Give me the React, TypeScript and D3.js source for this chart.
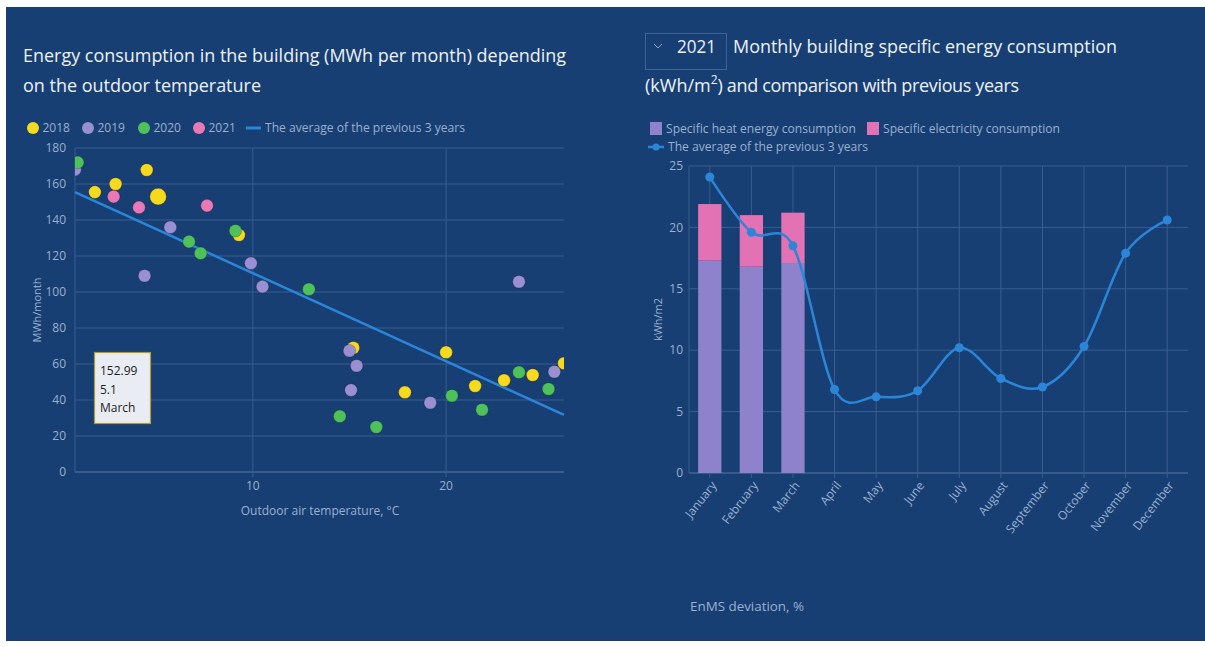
import React from "react";
import * as d3 from "d3";

// left chart: outdoor temperature (°C) vs consumption (MWh / month)
const t2018 = [1.83, 2.9, 4.51, 5.1, 9.28, 15.2, 17.87, 20.0, 21.5, 23.0, 24.48, 26.1];
const v2018 = [155.5, 160, 167.8, 152.99, 131.7, 69, 44.3, 66.5, 47.8, 51, 53.9, 60.4];
const t2019 = [0.8, 5.73, 4.4, 9.9, 10.5, 23.77, 15.0, 15.37, 15.08, 19.18, 25.6];
const v2019 = [168, 136, 109, 116, 103, 105.7, 67.4, 59, 45.5, 38.5, 55.7];
const t2020 = [0.94, 6.7, 7.3, 9.1, 12.9, 14.5, 16.39, 20.3, 21.86, 23.77, 25.3];
const v2020 = [172, 128, 121.5, 134, 101.5, 31, 25, 42.4, 34.6, 55.4, 46.1];
const t2021 = [2.8, 4.11, 7.63];
const v2021 = [153, 147, 148];
const avgTemps = [0.8, 26.1];
const avgVals = [155.5, 31.7];
const years = ["2018", "2019", "2020", "2021"];
const yearColors = ["#f7d91e", "#9a8fd2", "#4fc15a", "#e978b6"];
const yTicksLeft = [0, 20, 40, 60, 80, 100, 120, 140, 160, 180];
const xTicksLeft = [10, 20];
const tooltipLines = ["152.99", "5.1", "March"];

// right chart: monthly specific consumption (kWh/m2)
const months = ["January", "February", "March", "April", "May", "June", "July", "August", "September", "October", "November", "December"];
const heat = [17.3, 16.8, 17.1];
const electricity = [4.6, 4.2, 4.1];
const avgPrev = [24.1, 19.6, 18.5, 6.8, 6.2, 6.7, 10.2, 7.7, 7.0, 10.3, 17.9, 20.6];
const yTicksRight = [0, 5, 10, 15, 20, 25];

const BG = "#173f73";
const GRID = "#3a5d90";
const AXIS = "#5878a6";
const LABEL = "#9bb0cf";
const TITLE = "#eef2f8";
const LINE = "#2c86d8";
const FONT = "'Open Sans', 'Noto Sans', sans-serif";

function Scatter() {
  const x = d3.scaleLinear().domain([0.8, 26.1]).range([75, 564]);
  const y = d3.scaleLinear().domain([0, 180]).range([472, 148]);
  const series = [
    { t: t2018, v: v2018 },
    { t: t2019, v: v2019 },
    { t: t2020, v: v2020 },
    { t: t2021, v: v2021 },
  ];
  const line = d3.line<number>().x((d) => x(d)).y((d, i) => y(avgVals[i]));
  const hover = { s: 0, i: 3 };

  return (
    <g>
      <defs>
        <clipPath id="plotL">
          <rect x={x.range()[0]} y={y(180) - 8} width={x.range()[1] - x.range()[0]} height={y(0) - y(180) + 16} />
        </clipPath>
      </defs>
      {yTicksLeft.map((d) => (
        <g key={d}>
          <line x1={x.range()[0]} x2={x.range()[1]} y1={y(d)} y2={y(d)} stroke={d === 0 ? AXIS : GRID} strokeWidth={1} />
          <text x={66} y={y(d)} dy="0.35em" textAnchor="end" fill={LABEL} fontSize={12}>{d}</text>
        </g>
      ))}
      <line x1={x.range()[0]} x2={x.range()[0]} y1={y(180)} y2={y(0)} stroke={GRID} />
      {xTicksLeft.map((d) => (
        <g key={d}>
          <line x1={x(d)} x2={x(d)} y1={y(180)} y2={y(0) + 5} stroke={GRID} />
          <text x={x(d)} y={y(0) + 18} textAnchor="middle" fill={LABEL} fontSize={12}>{d}</text>
        </g>
      ))}
      <text x={320} y={515} textAnchor="middle" fill={LABEL} fontSize={12}>Outdoor air temperature, °C</text>
      <text transform={`translate(41,${(y(0) + y(180)) / 2}) rotate(-90)`} textAnchor="middle" fill={LABEL} fontSize={11}>MWh/month</text>

      <path d={line(avgTemps) || ""} stroke={LINE} strokeWidth={2.5} fill="none" />
      <g clipPath="url(#plotL)">
        {series.map((s, si) =>
          s.t.map((t, i) =>
            si === hover.s && i === hover.i ? null : (
              <circle key={`${si}-${i}`} cx={x(t)} cy={y(s.v[i])} r={6.3} fill={yearColors[si]} stroke="rgba(0,0,0,0.25)" strokeWidth={0.8} />
            )
          )
        )}
        <circle cx={x(series[hover.s].t[hover.i])} cy={y(series[hover.s].v[hover.i])} r={8.3} fill={yearColors[hover.s]} stroke="rgba(0,0,0,0.25)" strokeWidth={0.8} />
      </g>

      {/* tooltip */}
      <rect x={94.5} y={352.5} width={56} height={71} fill="#e9edf3" stroke="#b89c22" strokeWidth={1.2} />
      {tooltipLines.map((s, i) => (
        <text key={s} x={100} y={375 + i * 18.5} fill="#222" fontSize={12}>{s}</text>
      ))}

      {/* legend */}
      {years.map((yr, i) => {
        const lx = [33, 88, 144, 199][i];
        return (
          <g key={yr}>
            <circle cx={lx} cy={128} r={6} fill={yearColors[i]} />
            <text x={lx + 9.5} y={128} dy="0.35em" fill={LABEL} fontSize={12}>{yr}</text>
          </g>
        );
      })}
      <line x1={246} x2={261} y1={128} y2={128} stroke={LINE} strokeWidth={3} />
      <text x={265} y={128} dy="0.35em" fill={LABEL} fontSize={12} textLength={200} lengthAdjust="spacingAndGlyphs">The average of the previous 3 years</text>

      <text x={23} y={62} fill={TITLE} fontSize={18.5} textLength={543} lengthAdjust="spacingAndGlyphs">Energy consumption in the building (MWh per month) depending</text>
      <text x={23} y={92} fill={TITLE} fontSize={18.5} textLength={238} lengthAdjust="spacingAndGlyphs">on the outdoor temperature</text>
    </g>
  );
}

function Monthly() {
  const x = d3.scaleBand().domain(months).range([689, 1188]);
  const y = d3.scaleLinear().domain([0, 25]).range([473, 166]);
  const bw = x.bandwidth() * 0.56;
  const cx = (m: string) => (x(m) || 0) + x.bandwidth() / 2;
  const line = d3
    .line<number>()
    .x((d, i) => cx(months[i]))
    .y((d) => y(d))
    .curve(d3.curveCardinal.tension(0));

  return (
    <g>
      {yTicksRight.map((d) => (
        <g key={d}>
          <line x1={689} x2={1188} y1={y(d)} y2={y(d)} stroke={d === 0 ? AXIS : GRID} />
          <text x={683} y={y(d)} dy="0.35em" textAnchor="end" fill={LABEL} fontSize={12}>{d}</text>
        </g>
      ))}
      <line x1={689} x2={689} y1={y(25)} y2={y(0)} stroke={GRID} />
      {months.map((m) => (
        <g key={m}>
          <line x1={cx(m)} x2={cx(m)} y1={y(25)} y2={y(0) + 5} stroke={GRID} />
          <text transform={`translate(${cx(m) + 4},${y(0) + 10}) rotate(-52)`} textAnchor="end" dy="0.35em" fill={LABEL} fontSize={12}>{m}</text>
        </g>
      ))}
      {heat.map((h, i) => (
        <g key={months[i]}>
          <rect x={cx(months[i]) - bw / 2} y={y(h)} width={bw} height={y(0) - y(h)} fill="#8f82cc" />
          <rect x={cx(months[i]) - bw / 2} y={y(h + electricity[i])} width={bw} height={y(h) - y(h + electricity[i])} fill="#e272b4" />
        </g>
      ))}
      <path d={line(avgPrev) || ""} stroke={LINE} strokeWidth={2.5} fill="none" />
      {avgPrev.map((v, i) => (
        <circle key={i} cx={cx(months[i])} cy={y(v)} r={4.5} fill={LINE} />
      ))}
      <text transform={`translate(662,${(y(0) + y(25)) / 2}) rotate(-90)`} textAnchor="middle" fill={LABEL} fontSize={11}>kWh/m2</text>
      <text x={747} y={611} textAnchor="middle" fill={LABEL} fontSize={13} textLength={114} lengthAdjust="spacingAndGlyphs">EnMS deviation, %</text>

      {/* legend */}
      <rect x={650} y={122} width={12} height={13} fill="#8f82cc" />
      <text x={666} y={128.5} dy="0.35em" fill={LABEL} fontSize={12} textLength={190} lengthAdjust="spacingAndGlyphs">Specific heat energy consumption</text>
      <rect x={867} y={122} width={12} height={13} fill="#e272b4" />
      <text x={883} y={128.5} dy="0.35em" fill={LABEL} fontSize={12} textLength={177} lengthAdjust="spacingAndGlyphs">Specific electricity consumption</text>
      <line x1={648} x2={664} y1={147} y2={147} stroke={LINE} strokeWidth={2.5} />
      <circle cx={656} cy={147} r={3.5} fill={LINE} />
      <text x={668} y={147} dy="0.35em" fill={LABEL} fontSize={12} textLength={200} lengthAdjust="spacingAndGlyphs">The average of the previous 3 years</text>

      {/* year selector + title */}
      <rect x={645.5} y={33.5} width={81} height={36} fill="none" stroke="#3e6397" />
      <path d="M654,44 l4,4 l4,-4" fill="none" stroke="#8fa3c3" strokeWidth={1} />
      <text x={677} y={53} fill={TITLE} fontSize={18} textLength={39} lengthAdjust="spacingAndGlyphs">2021</text>
      <text x={733} y={53} fill={TITLE} fontSize={18.5} textLength={384} lengthAdjust="spacingAndGlyphs">Monthly building specific energy consumption</text>
      <text x={645} y={92} fill={TITLE} fontSize={18}>
        <tspan>(kWh/m</tspan>
        <tspan fontSize={12} dy={-8}>2</tspan>
        <tspan dy={8} letterSpacing={-0.35}>) and comparison with previous years</tspan>
      </text>
    </g>
  );
}

export default function App() {
  return (
    <svg
      width={1205}
      height={647}
      style={{ position: "absolute", left: 0, top: 0, fontFamily: FONT }}
    >
      <rect width={1205} height={647} fill="#fff" />
      <rect x={6} y={7} width={1199} height={634} fill={BG} />
      <Scatter />
      <Monthly />
    </svg>
  );
}
